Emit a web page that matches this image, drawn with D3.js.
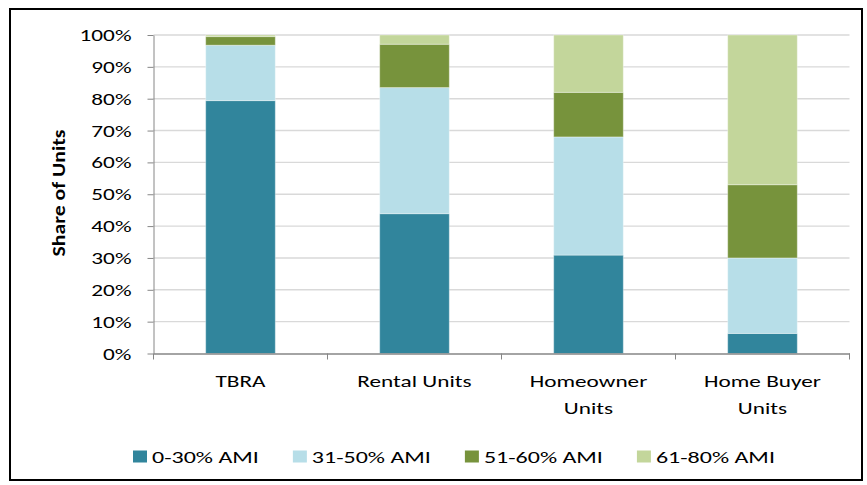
<!DOCTYPE html>
<html><head><meta charset="utf-8">
<script src="https://cdn.jsdelivr.net/npm/d3@7"></script>
<style>
body{margin:0;background:#fff}
text{font-family:Carlito, Lato, "Open Sans", sans-serif; fill:#000}
</style>
</head><body>
<svg id="chart" width="867" height="485"></svg>
<script>
// ---------- data ----------
const categoryLines = [["TBRA"], ["Rental Units"], ["Homeowner", "Units"], ["Home Buyer", "Units"]];
const categories = categoryLines.map(l => l.join(" "));
const seriesNames = ["0-30% AMI", "31-50% AMI", "51-60% AMI", "61-80% AMI"];
const ami0to30  = [79.4, 43.9, 30.9, 6.3];
const ami31to50 = [17.4, 39.6, 37.1, 23.7];
const ami51to60 = [2.7, 13.6, 14.0, 23.0];
const ami61to80 = [0.5, 2.9, 18.0, 47.0];
const seriesValues = [ami0to30, ami31to50, ami51to60, ami61to80];
const seriesColors = ["#31859C", "#B7DEE8", "#77933C", "#C3D69B"];
const yTicks = [0, 10, 20, 30, 40, 50, 60, 70, 80, 90, 100];
const yTitle = "Share of Units";

// ---------- layout ----------
const W = 867, H = 485;
const plot = {left: 153.5, right: 849.5, top: 35, bottom: 353.5};
const svg = d3.select("#chart");
svg.append("rect").attr("width", W).attr("height", H).attr("fill", "#fff");
svg.append("rect").attr("x", 10).attr("y", 9).attr("width", 852).attr("height", 471)
  .attr("fill", "none").attr("stroke", "#000").attr("stroke-width", 2);

// horizontal text stretch to mimic reference
const probe = svg.append("text").style("font-size", "15.5px").text("100%");
const sx = 52 / probe.node().getComputedTextLength();
probe.remove();

const x = d3.scaleBand().domain(categories).range([plot.left, plot.right]).paddingInner(0.6).paddingOuter(0.3);
const y = d3.scaleLinear().domain([0, 100]).range([plot.bottom, plot.top]);
const color = d3.scaleOrdinal().domain(seriesNames).range(seriesColors);

// gridlines
svg.append("g").selectAll("line").data(yTicks.filter(d => d > 0)).join("line")
  .attr("x1", plot.left).attr("x2", plot.right)
  .attr("y1", d => y(d)).attr("y2", d => y(d))
  .attr("stroke", "#D9D9D9").attr("stroke-width", 1.4);

// stacked bars
const rows = categories.map((c, i) => {
  const r = {category: c};
  seriesNames.forEach((s, j) => r[s] = seriesValues[j][i]);
  return r;
});
const stacked = d3.stack().keys(seriesNames)(rows);
svg.append("g").selectAll("g").data(stacked).join("g")
  .attr("fill", d => color(d.key))
  .selectAll("rect").data(d => d).join("rect")
  .attr("x", d => x(d.data.category)).attr("width", x.bandwidth())
  .attr("y", d => y(d[1])).attr("height", d => y(d[0]) - y(d[1]))
  .attr("stroke", "rgba(255,255,255,0.35)").attr("stroke-width", 1);

// y axis
const yAxis = svg.append("g").attr("transform", `translate(${plot.left},0)`)
  .call(d3.axisLeft(y).tickValues(yTicks).tickSize(6).tickSizeOuter(0).tickFormat(d => d + "%"))
  .attr("font-size", null).attr("font-family", null);
yAxis.select(".domain").attr("stroke", "#868686");
yAxis.selectAll(".tick line").attr("stroke", "#868686");
yAxis.selectAll(".tick text").attr("x", null).attr("dy", "0.36em")
  .attr("transform", `translate(-22,0) scale(${sx},1)`)
  .style("font-size", "15.5px").attr("fill", "#111");

// x axis
const xAxis = svg.append("g").attr("transform", `translate(0,${plot.bottom})`)
  .call(d3.axisBottom(x).tickSize(0).tickSizeOuter(0))
  .attr("font-size", null).attr("font-family", null);
xAxis.select(".domain").attr("stroke", "#868686").attr("stroke-width", 1.3);
xAxis.selectAll(".tick text").each(function(d, i) {
  const t = d3.select(this).text(null).attr("y", null).attr("dy", null)
    .attr("transform", `translate(0,33.5) scale(${sx},1)`)
    .style("font-size", "15.5px").attr("fill", "#111");
  categoryLines[i].forEach((line, k) => t.append("tspan").attr("x", 0).attr("y", k * 27).text(line));
});
const half = (x.step() - x.bandwidth()) / 2;
const bounds = categories.map(c => x(c) - half).concat([x(categories[categories.length - 1]) + x.bandwidth() + half]);
xAxis.selectAll(".bound").data(bounds).join("line").attr("class", "bound")
  .attr("x1", d => d).attr("x2", d => d).attr("y1", 0).attr("y2", 6)
  .attr("stroke", "#868686");

// y title
svg.append("text")
  .attr("transform", "translate(65,193) rotate(-90)")
  .attr("text-anchor", "middle")
  .attr("textLength", 127).attr("lengthAdjust", "spacingAndGlyphs")
  .style("font-size", "17px").style("font-weight", "bold")
  .text(yTitle);

// legend
const legend = svg.append("g");
let lx = 133;
seriesNames.forEach((s, i) => {
  const g = legend.append("g").attr("transform", `translate(${lx},0)`);
  g.append("rect").attr("x", 0).attr("y", 450.5).attr("width", 14).attr("height", 12).attr("fill", color(s));
  const t = g.append("text").attr("transform", `translate(19,463) scale(${sx},1)`)
    .style("font-size", "16px").attr("fill", "#111").text(s);
  const w = t.node().getComputedTextLength() * sx;
  lx += 19 + w + 34;
});
</script>
</body></html>
